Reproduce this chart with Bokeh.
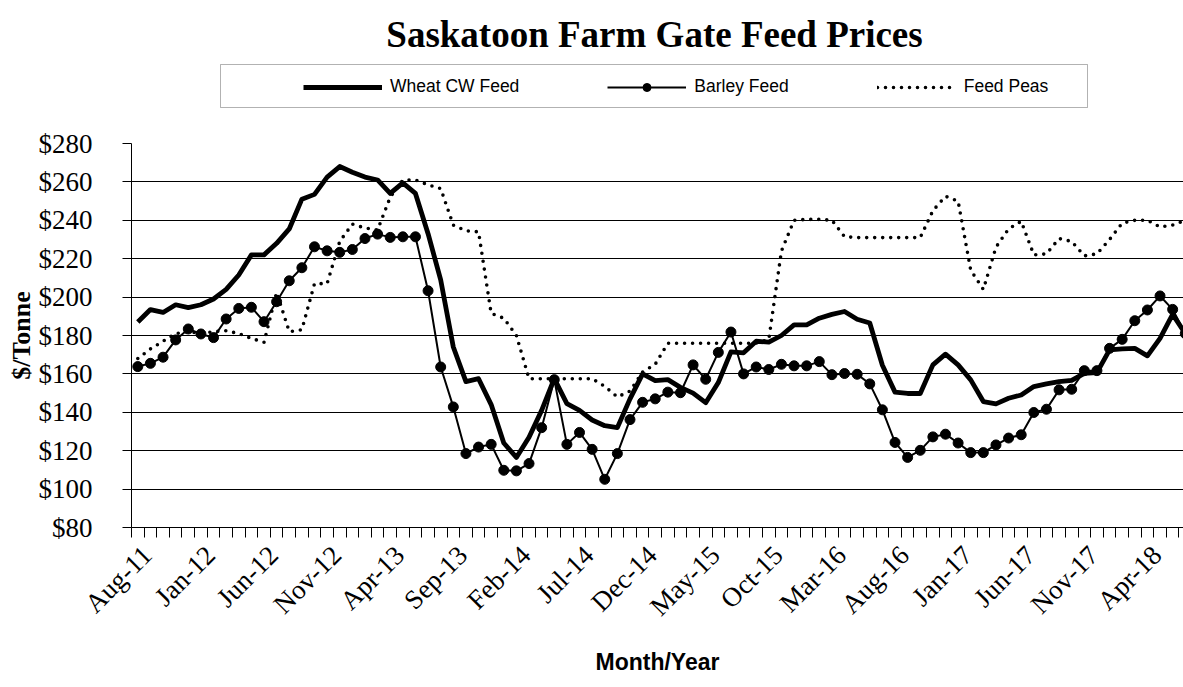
import numpy as np
import pandas as pd
from bokeh.plotting import figure
from bokeh.layouts import column
from bokeh.models import (Range1d, FixedTicker, Legend, LegendItem, Label,
                          BoxAnnotation, PrintfTickFormatter)
from bokeh.embed import file_html
from bokeh.resources import INLINE

# ---------------- data ----------------
months = [d.strftime("%b-%y") for d in pd.date_range("2011-08-01", periods=84, freq="MS")]

wheat = [187, 193.5, 192, 196, 194.5, 196, 199, 204, 211.5, 222,
         222, 228, 235.5, 251, 253.5, 262.5, 268, 265, 262.5, 261,
         254, 259.5, 254, 233, 209, 174, 156, 157.5, 144, 124,
         116.5, 127, 141, 157.5, 144.5, 141, 136, 133, 132, 147,
         160, 156.5, 157, 153, 150, 145, 155.5, 171.5, 171, 177,
         176.5, 180, 185.5, 185.5, 189, 191, 192.5, 188.5, 186.5, 164.5,
         150.5, 149.8, 149.8, 164.7, 170.3, 164.7, 156.9, 145.6, 144.4, 147.3,
         149, 153.4, 154.8, 156, 156.6, 160.3, 160.7, 172.5, 173, 173.3,
         169.4, 178.5, 191, 181]

barley = [163.8, 165.5, 168.7, 177.7, 183.4, 180.8, 178.9, 188.6, 194.1, 194.7,
          187.2, 197.6, 208.5, 215.3, 226.2, 224.1, 223.3, 224.8, 230.5, 232.8,
          231.1, 231.4, 231.4, 203.3, 163.6, 142.8, 118.5, 121.9, 123.3, 109.8,
          109.5, 113.3, 132, 157, 123.3, 129.5, 120.7, 105.1, 118.5, 136.2,
          145.2, 147, 150.5, 150.2, 164.7, 157.2, 171.2, 181.8, 160, 163.6,
          162.3, 165, 164.2, 164.2, 166.4, 159.6, 160.2, 159.8, 154.8, 141.3,
          124.3, 116.5, 120.2, 127.2, 128.6, 124, 119, 119, 123, 126.6,
          128.3, 139.9, 141.6, 151.7, 152, 161.7, 161.7, 173.3, 178, 187.7,
          193.3, 200.6, 193.6, 181]

peas = [168, 173, 177, 181, 182, 181, 182, 182.5, 181, 178.5,
        176.5, 202.5, 182, 183, 207, 207, 229, 238, 236, 235,
        252, 261, 261, 258.5, 256.5, 237.5, 234.5, 234, 191.5, 189,
        180, 157.5, 157.5, 157.5, 157.5, 157.5, 157.5, 153.5, 148, 151,
        161, 165, 176, 176, 176, 176, 176, 176, 176, 176,
        178, 224, 240, 240.5, 240.5, 240, 231.5, 231, 231, 231,
        231, 231, 231, 245, 252.5, 250, 214, 204, 226, 235.5,
        239.5, 222, 222.5, 230.5, 229, 221.5, 222.5, 230, 238.5, 240,
        240, 236.5, 237.5, 240]

y_ticks = [80, 100, 120, 140, 160, 180, 200, 220, 240, 260, 280]
tick_every = 5
tick_labels = months[::tick_every]

# category i is centred at i + 0.5 (tick marks fall between months)
x = np.arange(len(months)) + 0.5

# ---------------- layout constants ----------------
W, H = 1183, 687
HEAD = 123                     # header (title + legend) height
ML, MT, MB = 131, 20, 160
MAIN_H = H - HEAD
frame_w = W - ML
px_per_month = 12.62
label_shift = 0.75             # rotated labels sit slightly right of the category centre
serif = "Liberation Serif"
sans = "Liberation Sans"

# ---------------- main chart ----------------
p = figure(width=W, height=MAIN_H, output_backend="svg", toolbar_location=None,
           x_range=Range1d(0, frame_w / px_per_month), y_range=Range1d(80, 280),
           min_border_left=ML, min_border_right=0, min_border_top=MT,
           min_border_bottom=MB)
p.outline_line_color = None
p.background_fill_color = "white"
p.border_fill_color = "white"

p.xgrid.visible = False
p.ygrid.grid_line_color = "black"
p.ygrid.grid_line_width = 1

# y axis
p.yaxis.ticker = FixedTicker(ticks=y_ticks)
p.yaxis.formatter = PrintfTickFormatter(format="$%d")
p.yaxis.axis_line_color = "black"
p.yaxis.major_tick_line_color = "black"
p.yaxis.major_tick_out = 9
p.yaxis.major_tick_in = 0
p.yaxis.minor_tick_line_color = None
p.yaxis.major_label_text_font = serif
p.yaxis.major_label_text_font_size = "27px"
p.yaxis.major_label_text_color = "black"
p.yaxis.major_label_standoff = 30
p.yaxis.axis_label = "$/Tonne"
p.yaxis.axis_label_text_font = serif
p.yaxis.axis_label_text_font_style = "bold"
p.yaxis.axis_label_text_font_size = "26px"
p.yaxis.axis_label_text_color = "black"
p.yaxis.axis_label_standoff = 0

# x axis: month tick marks at boundaries, labels near category centres
label_pos = [x[i] + label_shift for i in range(0, len(months), tick_every)]
p.xaxis.ticker = FixedTicker(ticks=label_pos, minor_ticks=list(range(0, len(months) + 1)))
p.xaxis.major_label_overrides = {float(v): t for v, t in zip(label_pos, tick_labels)}
p.xaxis.major_tick_line_color = None
p.xaxis.major_tick_out = 0
p.xaxis.major_tick_in = 0
p.xaxis.minor_tick_line_color = "black"
p.xaxis.minor_tick_out = 10
p.xaxis.minor_tick_in = 0
p.xaxis.axis_line_color = "black"
p.xaxis.major_label_orientation = np.pi / 4
p.xaxis.major_label_text_font = serif
p.xaxis.major_label_text_font_size = "27px"
p.xaxis.major_label_text_color = "black"
p.xaxis.major_label_standoff = 13
p.xaxis.axis_label = "Month/Year"
p.xaxis.axis_label_text_font = sans
p.xaxis.axis_label_text_font_style = "bold"
p.xaxis.axis_label_text_font_size = "23px"
p.xaxis.axis_label_text_color = "black"
p.xaxis.axis_label_standoff = 14

# ---------------- series ----------------
wheat_style = dict(line_color="black", line_width=4.8, line_join="round")
barley_line_style = dict(line_color="black", line_width=2, line_join="round")
barley_mark_style = dict(marker="circle", size=10, fill_color="black", line_color="black")
peas_style = dict(line_color="black", line_width=3.6, line_dash="0 8", line_cap="round")

p.line(x, wheat, **wheat_style)
p.line(x, barley, **barley_line_style)
p.scatter(x, barley, **barley_mark_style)
p.line(x, peas, **peas_style)

# ---------------- header: title + legend ----------------
# header frame is aligned with the main frame: data x == page x here
h = figure(width=W, height=HEAD, output_backend="svg", toolbar_location=None,
           x_range=Range1d(ML, W), y_range=Range1d(0, HEAD),
           x_axis_location=None, y_axis_location=None,
           min_border_left=ML, min_border_right=0, min_border_top=0, min_border_bottom=0)
h.outline_line_color = None
h.grid.visible = False
h.background_fill_color = "white"
h.border_fill_color = "white"

def hy(page_y):
    return HEAD - page_y

# legend proxies (same data; they fall outside this header's ranges, so only the legend shows)
lw = h.line(x, wheat, **wheat_style)
lbl = h.line(x, barley, **barley_line_style)
lbs = h.scatter(x, barley, **barley_mark_style)
lp = h.line(x, peas, **peas_style)

legend = Legend(items=[LegendItem(label="Wheat CW Feed", renderers=[lw]),
                       LegendItem(label="Barley Feed", renderers=[lbl, lbs]),
                       LegendItem(label="Feed Peas", renderers=[lp])],
                orientation="horizontal", location=(303 - ML, hy(97)),
                glyph_width=79, glyph_height=20, label_height=20,
                label_standoff=8, spacing=88, padding=0, margin=0,
                border_line_color=None, background_fill_alpha=0,
                label_text_font=sans, label_text_font_size="17.5px",
                label_text_color="black")
h.add_layout(legend)

box = BoxAnnotation(left=220 - ML, right=1087 - ML, top=hy(64), bottom=hy(107),
                    left_units="screen", right_units="screen",
                    top_units="screen", bottom_units="screen",
                    fill_color=None, fill_alpha=0, line_color="black", line_width=1)
h.add_layout(box)

title = Label(x=654, y=hy(34), x_units="data", y_units="data",
              text="Saskatoon Farm Gate Feed Prices", text_align="center",
              text_baseline="middle", text_font=serif, text_font_style="bold",
              text_font_size="37px", text_color="black")
h.add_layout(title)

layout = column(h, p, spacing=0)
open("out.html", "w").write(file_html(layout, INLINE))
